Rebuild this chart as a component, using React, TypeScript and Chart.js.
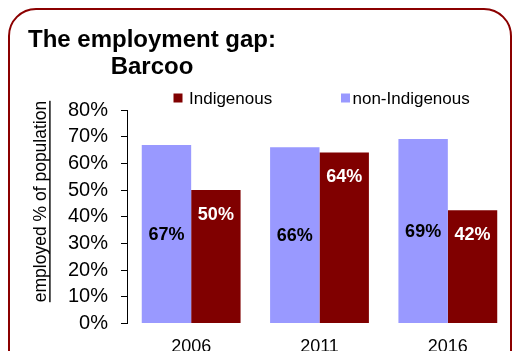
import React, { useEffect, useRef } from 'react';
import { Chart, registerables } from 'chart.js';

Chart.register(...registerables);

const categories = ['2006', '2011', '2016'];
const nonIndigenous = [66.9, 66.0, 69.1];
const indigenous = [50.0, 64.1, 42.4];
const seriesNames = ['non-Indigenous', 'Indigenous'];
const titleLines = ['The employment gap:', 'Barcoo'];
const yAxisTitle = 'employed % of population';
const yMin = 0;
const yMax = 80;
const yStep = 10;

const PURPLE = '#9999FF';
const MAROON = '#800000';
const FONT = "'Liberation Sans', Arial, Helvetica, sans-serif";

const decorPlugin = {
  id: 'decor',
  afterDraw(chart: any) {
    const ctx = chart.ctx;
    ctx.save();
    // Title
    ctx.fillStyle = '#000';
    ctx.font = `bold 24px ${FONT}`;
    ctx.textAlign = 'center';
    ctx.textBaseline = 'alphabetic';
    ctx.fillText(titleLines[0], 152, 47);
    ctx.fillText(titleLines[1], 152, 74);

    // Legend (Indigenous first, then non-Indigenous)
    ctx.font = `17px ${FONT}`;
    ctx.textAlign = 'left';
    const legendItems = [
      { ds: 1, box: 173.5, text: 189 },
      { ds: 0, box: 341, text: 352.5 },
    ];
    legendItems.forEach((it) => {
      const ds = chart.data.datasets[it.ds];
      ctx.fillStyle = ds.backgroundColor;
      ctx.fillRect(it.box, 93.5, 9, 9);
      ctx.fillStyle = '#000';
      ctx.fillText(ds.label, it.text, 103.5);
    });

    // Y axis title, rotated and underlined
    ctx.translate(46, 201.5);
    ctx.rotate(-Math.PI / 2);
    ctx.font = `17.5px ${FONT}`;
    ctx.textAlign = 'center';
    ctx.fillStyle = '#000';
    ctx.fillText(yAxisTitle, 0, 0);
    const w = ctx.measureText(yAxisTitle).width;
    ctx.fillRect(-w / 2, 3.2, w, 1.4);
    ctx.restore();
  },
};

const labelPlugin = {
  id: 'barLabels',
  afterDatasetsDraw(chart: any) {
    const ctx = chart.ctx;
    ctx.save();
    ctx.font = `bold 18px ${FONT}`;
    ctx.textAlign = 'center';
    ctx.textBaseline = 'middle';
    chart.data.datasets.forEach((ds: any, di: number) => {
      const meta = chart.getDatasetMeta(di);
      meta.data.forEach((bar: any, i: number) => {
        const txt = Math.round(ds.data[i]) + '%';
        if (di === 0) {
          ctx.fillStyle = '#000';
          ctx.fillText(txt, bar.x, (bar.y + bar.base) / 2 + 1);
        } else {
          ctx.fillStyle = '#fff';
          ctx.fillText(txt, bar.x, bar.y + 24.5);
        }
      });
    });
    ctx.restore();
  },
};

export default function App() {
  const ref = useRef<HTMLCanvasElement | null>(null);

  useEffect(() => {
    if (!ref.current) return;
    const chart = new Chart(ref.current, {
      type: 'bar',
      data: {
        labels: categories,
        datasets: [
          {
            label: seriesNames[0],
            data: nonIndigenous,
            backgroundColor: PURPLE,
            borderWidth: 0,
            categoryPercentage: 0.77,
            barPercentage: 1,
          },
          {
            label: seriesNames[1],
            data: indigenous,
            backgroundColor: MAROON,
            borderWidth: 0,
            categoryPercentage: 0.77,
            barPercentage: 1,
          },
        ],
      },
      options: {
        animation: false,
        responsive: false,
        maintainAspectRatio: false,
        layout: { padding: { top: 110, left: 0, right: 0, bottom: 0 } },
        plugins: {
          legend: { display: false },
          title: { display: false },
          tooltip: { enabled: false },
        },
        scales: {
          x: {
            grid: { display: false, drawTicks: false },
            border: { display: false },
            ticks: { color: '#000', font: { family: FONT, size: 18 }, padding: 13 },
            afterFit: (s: any) => {
              s.height = 27.5;
            },
          },
          y: {
            min: yMin,
            max: yMax,
            ticks: {
              stepSize: yStep,
              autoSkip: false,
              callback: (v: any) => v + '%',
              color: '#000',
              font: { family: FONT, size: 20 },
              padding: 13,
            },
            grid: { drawOnChartArea: false, drawTicks: true, tickLength: 6, color: '#000' },
            border: { display: true, color: '#000', width: 1 },
            afterFit: (s: any) => {
              s.width = 127;
            },
          },
        },
      },
      plugins: [labelPlugin, decorPlugin],
    } as any);
    return () => chart.destroy();
  }, []);

  return (
    <div
      style={{
        position: 'fixed',
        left: 0,
        top: 0,
        width: 512,
        height: 351,
        overflow: 'hidden',
        background: '#fff',
      }}
    >
      <div
        style={{
          position: 'absolute',
          left: 8,
          top: 8,
          width: 504,
          height: 420,
          boxSizing: 'border-box',
          border: '2.5px solid #8b0000',
          borderRadius: 28,
        }}
      />
      <canvas
        ref={ref}
        width={512}
        height={351}
        style={{ position: 'absolute', left: 0, top: 0, display: 'block' }}
      />
    </div>
  );
}
